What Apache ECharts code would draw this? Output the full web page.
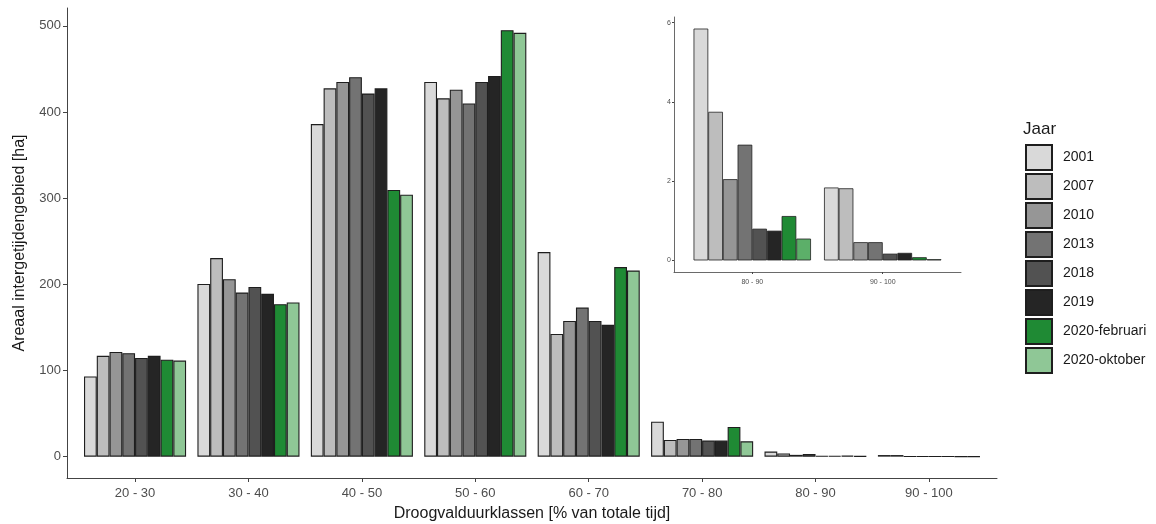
<!DOCTYPE html>
<html>
<head>
<meta charset="utf-8">
<script src="https://cdn.jsdelivr.net/npm/echarts@6/dist/echarts.min.js"></script>
<style>
html,body{margin:0;padding:0;background:#fff;}
#chart{width:1156px;height:524px;}
</style>
</head>
<body>
<div id="chart"></div>
<script>
const categories = ['20 - 30','30 - 40','40 - 50','50 - 60','60 - 70','70 - 80','80 - 90','90 - 100'];
const insetCategories = ['80 - 90','90 - 100'];
const years = ['2001','2007','2010','2013','2018','2019','2020-februari','2020-oktober'];
const yTicks = [0,100,200,300,400,500];
const insetYTicks = [0,2,4,6];

const v2001 = [93, 200.5, 386, 435, 237.5, 40.5, 5.85, 1.84];
const v2007 = [117, 230.5, 427.5, 416, 142.5, 19.3, 3.75, 1.82];
const v2010 = [121.5, 206, 435, 426, 157.5, 20.5, 2.05, 0.46];
const v2013 = [120, 190.5, 440.5, 410, 173, 20.5, 2.92, 0.46];
const v2018 = [114.5, 197, 421.5, 435, 157.5, 18.6, 0.8, 0.17];
const v2019 = [117, 189, 427.5, 442, 153, 18.6, 0.75, 0.19];
const v2020feb = [112.5, 177, 309.5, 495, 220, 34.4, 1.12, 0.08];
const v2020okt = [111.5, 179, 304, 492, 216, 17.8, 0.55, 0.03];

const seriesValues = [v2001, v2007, v2010, v2013, v2018, v2019, v2020feb, v2020okt];
const colors = ['#d9d9d9','#bdbdbd','#969696','#737373','#525252','#252525','#1f8a34','#8fc796'];
const insetColors = ['#d9d9d9','#bdbdbd','#969696','#737373','#525252','#252525','#1f8a34','#5caf69'];

const FONT = 'Liberation Sans, Arial, sans-serif';

const series = [];
years.forEach((y, i) => {
  series.push({
    name: y, type: 'bar', xAxisIndex: 0, yAxisIndex: 0,
    data: seriesValues[i].map((v, j) => [j + 1, v]),
    barCategoryGap: '10%', barGap: '0%',
    itemStyle: { color: colors[i], borderColor: '#1e1e1e', borderWidth: 1.1 },
    emphasis: { disabled: true }
  });
});
years.forEach((y, i) => {
  const vals = seriesValues[i].slice(6);
  series.push({
    name: y, type: 'bar', xAxisIndex: 1, yAxisIndex: 1,
    data: vals.map((v, j) => [j + 1, v]),
    barCategoryGap: '10%', barGap: '0%',
    itemStyle: { color: insetColors[i], borderColor: '#222', borderWidth: 0.8 },
    emphasis: { disabled: true }
  });
});

const chart = echarts.init(document.getElementById('chart'), null, { renderer: 'canvas' });
chart.setOption({
  animation: false,
  backgroundColor: '#fff',
  textStyle: { fontFamily: FONT },
  title: {
    text: 'Jaar', left: 1023, top: 121, padding: 0,
    textStyle: { fontFamily: FONT, fontSize: 17, fontWeight: 'normal', color: '#1a1a1a' }
  },
  legend: {
    data: years, orient: 'vertical', left: 1025, top: 144, padding: 0,
    itemWidth: 26, itemHeight: 25, itemGap: 2, icon: 'rect',
    textStyle: { fontFamily: FONT, fontSize: 14, color: '#1a1a1a', padding: [0, 0, 0, 6] }
  },
  grid: [
    { left: 67, top: 8, width: 930, height: 470, outerBoundsMode: 'none', containLabel: false },
    { left: 674, top: 17, width: 287, height: 255, outerBoundsMode: 'none', containLabel: false }
  ],
  xAxis: [
    {
      type: 'value', gridIndex: 0, min: 0.4, max: 8.6,
      name: 'Droogvalduurklassen [% van totale tijd]', nameLocation: 'middle', nameGap: 28,
      nameTextStyle: { fontFamily: FONT, fontSize: 16, color: '#1a1a1a', verticalAlign: 'top' },
      axisLine: { show: true, onZero: false, lineStyle: { color: '#444', width: 1 } },
      axisTick: { show: true, length: 4, customValues: categories.map((c, i) => i + 1), lineStyle: { color: '#444' } },
      axisLabel: { customValues: categories.map((c, i) => i + 1), formatter: v => categories[Math.round(v) - 1] || '', margin: 9, fontSize: 13, color: '#4d4d4d', fontFamily: FONT },
      splitLine: { show: false }
    },
    {
      type: 'value', gridIndex: 1, min: 0.4, max: 2.6,
      axisLine: { show: true, onZero: false, lineStyle: { color: '#444', width: 0.8 } },
      axisTick: { show: true, length: 2, customValues: insetCategories.map((c, i) => i + 1), lineStyle: { color: '#444' } },
      axisLabel: { customValues: insetCategories.map((c, i) => i + 1), formatter: v => insetCategories[Math.round(v) - 1] || '', margin: 7, fontSize: 7, color: '#4d4d4d', fontFamily: FONT },
      splitLine: { show: false }
    }
  ],
  yAxis: [
    {
      type: 'value', gridIndex: 0, min: -24.8, max: 520.8,
      name: 'Areaal intergetijdengebied [ha]', nameLocation: 'middle', nameGap: 39,
      nameTextStyle: { fontFamily: FONT, fontSize: 16, color: '#1a1a1a' },
      axisLine: { show: true, onZero: false, lineStyle: { color: '#444', width: 1 } },
      axisTick: { show: true, length: 4, customValues: yTicks, lineStyle: { color: '#444' } },
      axisLabel: { customValues: yTicks, margin: 6, fontSize: 13, color: '#4d4d4d', fontFamily: FONT },
      splitLine: { show: false }
    },
    {
      type: 'value', gridIndex: 1, min: -0.2925, max: 6.1425,
      axisLine: { show: true, onZero: false, lineStyle: { color: '#444', width: 0.8 } },
      axisTick: { show: true, length: 2, customValues: insetYTicks, lineStyle: { color: '#444' } },
      axisLabel: { customValues: insetYTicks, margin: 3, fontSize: 7, color: '#4d4d4d', fontFamily: FONT },
      splitLine: { show: false }
    }
  ],
  series: series
});
</script>
</body>
</html>
